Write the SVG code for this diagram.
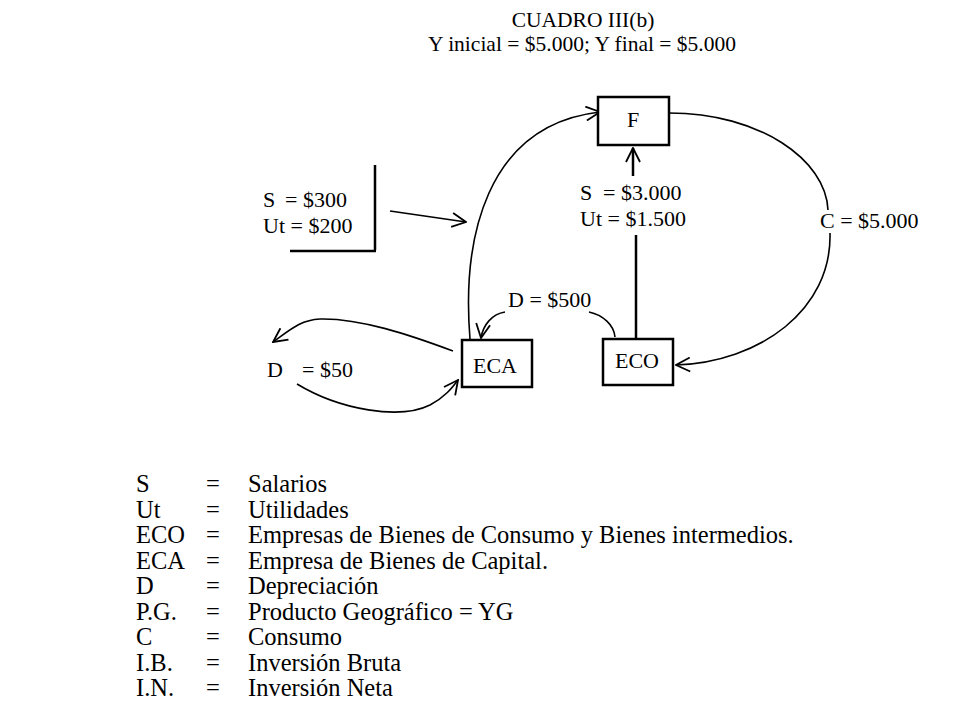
<svg xmlns="http://www.w3.org/2000/svg" width="960" height="720" viewBox="0 0 960 720">
<defs>
<style>
text{font-family:"Liberation Serif","Times New Roman",serif;fill:#000;}
.t{font-size:21.5px;}
.lab{font-size:22px;}
.leg{font-size:24.5px;}
.box{fill:#fff;stroke:#000;stroke-width:2.5;}
.c{fill:none;stroke:#000;stroke-width:1.6;}
.thick{fill:none;stroke:#000;stroke-width:2.5;}
</style>
<marker id="ah" markerUnits="userSpaceOnUse" markerWidth="16" markerHeight="16" viewBox="0 0 16 16" refX="15" refY="8" orient="auto">
<path d="M1,1 L15,8 L1,15" fill="none" stroke="#000" stroke-width="1.8"/>
</marker>
</defs>
<rect width="960" height="720" fill="#fff"/>
<g id="title">
<text class="t" x="583" y="27" text-anchor="middle">CUADRO III(b)</text>
<text class="t" x="582" y="51" text-anchor="middle">Y inicial = $5.000; Y final = $5.000</text>
</g>
<g id="connectors">
<path class="c" d="M470,339 C462,240 485,125 600,112" marker-end="url(#ah)"/>
<path class="c" d="M390,211 L466,222" marker-end="url(#ah)"/>
<path class="thick" d="M633,176 L633,148" marker-end="url(#ah)"/>
<path class="thick" d="M636,235 L636,339"/>
<path class="c" d="M669,113 C760,113 826,160 828,210"/>
<path class="c" d="M830,233 C832,310 760,362 676,365" marker-end="url(#ah)"/>
<path class="c" d="M589,312 C603,315 614,325 615,337"/>
<path class="c" d="M505,312 C492,314 483,325 481,338" marker-end="url(#ah)"/>
<path class="c" d="M453,351 C410,335 360,318 320,319 C300,320 290,330 273,342" marker-end="url(#ah)"/>
<path class="c" d="M297,384 C340,410 400,420 430,405 C445,397 452,388 458,380" marker-end="url(#ah)"/>
<path class="thick" d="M375,165 L375,250 M290,251 L376,251"/>
</g>
<g id="node-F">
<rect class="box" x="598" y="97" width="71" height="48"/>
<text class="lab" x="633" y="127" text-anchor="middle">F</text>
</g>
<g id="node-ECA">
<rect class="box" x="462" y="340" width="70" height="47"/>
<text class="lab" x="495" y="373" text-anchor="middle">ECA</text>
</g>
<g id="node-ECO">
<rect class="box" x="603" y="339" width="70" height="46"/>
<text class="lab" x="637" y="368" text-anchor="middle">ECO</text>
</g>
<g id="labels">
<text class="lab" y="207"><tspan x="263">S</tspan><tspan x="285">= $300</tspan></text>
<text class="lab" x="263" y="233">Ut = $200</text>
<text class="lab" y="200"><tspan x="580">S</tspan><tspan x="603">= $3.000</tspan></text>
<text class="lab" x="580" y="226">Ut = $1.500</text>
<text class="lab" x="508" y="307">D = $500</text>
<text class="lab" y="377"><tspan x="267">D</tspan><tspan x="302">= $50</tspan></text>
<text class="lab" x="820" y="228">C = $5.000</text>
</g>
<g id="legend">
<text class="leg" x="136" y="492">S</text><text class="leg" x="206" y="492">=</text><text class="leg" x="248" y="492">Salarios</text>
<text class="leg" x="136" y="517.5">Ut</text><text class="leg" x="206" y="517.5">=</text><text class="leg" x="248" y="517.5">Utilidades</text>
<text class="leg" x="136" y="543">ECO</text><text class="leg" x="206" y="543">=</text><text class="leg" x="248" y="543">Empresas de Bienes de Consumo y Bienes intermedios.</text>
<text class="leg" x="136" y="568.5">ECA</text><text class="leg" x="206" y="568.5">=</text><text class="leg" x="248" y="568.5">Empresa de Bienes de Capital.</text>
<text class="leg" x="136" y="594">D</text><text class="leg" x="206" y="594">=</text><text class="leg" x="248" y="594">Depreciación</text>
<text class="leg" x="136" y="619.5">P.G.</text><text class="leg" x="206" y="619.5">=</text><text class="leg" x="248" y="619.5">Producto Geográfico = YG</text>
<text class="leg" x="136" y="645">C</text><text class="leg" x="206" y="645">=</text><text class="leg" x="248" y="645">Consumo</text>
<text class="leg" x="136" y="670.5">I.B.</text><text class="leg" x="206" y="670.5">=</text><text class="leg" x="248" y="670.5">Inversión Bruta</text>
<text class="leg" x="136" y="696">I.N.</text><text class="leg" x="206" y="696">=</text><text class="leg" x="248" y="696">Inversión Neta</text>
</g>
</svg>
